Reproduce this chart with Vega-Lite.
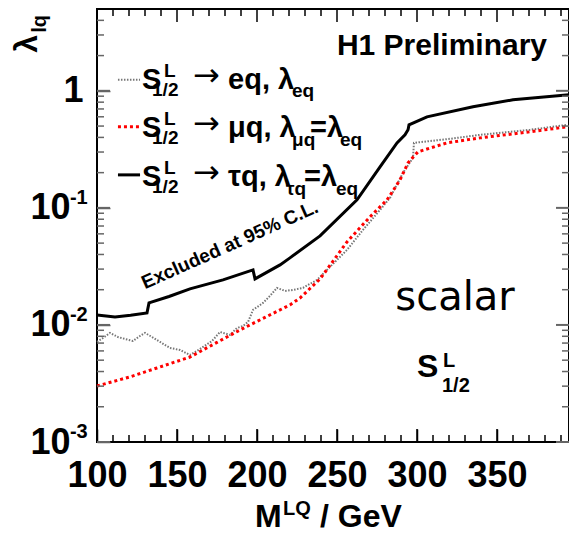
{
  "$schema": "https://vega.github.io/schema/vega-lite/v6.json",
  "width": 472,
  "height": 433,
  "autosize": "none",
  "padding": {"left": 97, "top": 9, "right": 0, "bottom": 91},
  "background": "white",
  "config": {"view": {"stroke": "#000", "strokeWidth": 2}, "font": "Liberation Sans"},
  "datasets": {
    "curves": [
      {"M": 100, "lam": 0.00716, "s": "eq"}, {"M": 103.75, "lam": 0.00774, "s": "eq"}, {"M": 108.1, "lam": 0.00855, "s": "eq"},
      {"M": 113.1, "lam": 0.00789, "s": "eq"}, {"M": 117.5, "lam": 0.00759, "s": "eq"}, {"M": 122.5, "lam": 0.00729, "s": "eq"},
      {"M": 126.9, "lam": 0.00805, "s": "eq"}, {"M": 130, "lam": 0.00855, "s": "eq"}, {"M": 134.4, "lam": 0.00789, "s": "eq"},
      {"M": 139.4, "lam": 0.00716, "s": "eq"}, {"M": 145.6, "lam": 0.00636, "s": "eq"}, {"M": 151.9, "lam": 0.00611, "s": "eq"},
      {"M": 158.1, "lam": 0.00554, "s": "eq"}, {"M": 162.5, "lam": 0.006, "s": "eq"}, {"M": 166.25, "lam": 0.00649, "s": "eq"},
      {"M": 171.9, "lam": 0.00729, "s": "eq"}, {"M": 176.9, "lam": 0.00871, "s": "eq"}, {"M": 183.1, "lam": 0.00822, "s": "eq"},
      {"M": 187.5, "lam": 0.00942, "s": "eq"}, {"M": 191.25, "lam": 0.0098, "s": "eq"}, {"M": 194.4, "lam": 0.01061, "s": "eq"},
      {"M": 197.5, "lam": 0.01343, "s": "eq"}, {"M": 203.75, "lam": 0.01542, "s": "eq"}, {"M": 208.1, "lam": 0.0177, "s": "eq"},
      {"M": 212.5, "lam": 0.02072, "s": "eq"}, {"M": 217.5, "lam": 0.01953, "s": "eq"}, {"M": 222.5, "lam": 0.01991, "s": "eq"},
      {"M": 228.75, "lam": 0.02072, "s": "eq"}, {"M": 237.5, "lam": 0.02425, "s": "eq"}, {"M": 245.6, "lam": 0.03132, "s": "eq"},
      {"M": 256.25, "lam": 0.04375, "s": "eq"}, {"M": 266.25, "lam": 0.06486, "s": "eq"}, {"M": 276.9, "lam": 0.0961, "s": "eq"},
      {"M": 283.1, "lam": 0.1217, "s": "eq"}, {"M": 291.25, "lam": 0.1991, "s": "eq"}, {"M": 297.5, "lam": 0.2675, "s": "eq"},
      {"M": 298.1, "lam": 0.3594, "s": "eq"}, {"M": 320.6, "lam": 0.389, "s": "eq"}, {"M": 339.4, "lam": 0.4207, "s": "eq"},
      {"M": 370.6, "lam": 0.4645, "s": "eq"}, {"M": 393.75, "lam": 0.512, "s": "eq"},
      {"M": 100, "lam": 0.00301, "s": "mu"}, {"M": 120.6, "lam": 0.0036, "s": "mu"}, {"M": 137.5, "lam": 0.00429, "s": "mu"},
      {"M": 158.1, "lam": 0.00532, "s": "mu"}, {"M": 175, "lam": 0.0071, "s": "mu"}, {"M": 189.4, "lam": 0.00906, "s": "mu"},
      {"M": 205, "lam": 0.0116, "s": "mu"}, {"M": 220.6, "lam": 0.01483, "s": "mu"}, {"M": 226.9, "lam": 0.017, "s": "mu"},
      {"M": 239.4, "lam": 0.0247, "s": "mu"}, {"M": 256.25, "lam": 0.0512, "s": "mu"}, {"M": 270.6, "lam": 0.0838, "s": "mu"},
      {"M": 281.25, "lam": 0.117, "s": "mu"}, {"M": 289.4, "lam": 0.1734, "s": "mu"}, {"M": 294.4, "lam": 0.2425, "s": "mu"},
      {"M": 300.6, "lam": 0.301, "s": "mu"}, {"M": 318.75, "lam": 0.3594, "s": "mu"}, {"M": 339.4, "lam": 0.3964, "s": "mu"},
      {"M": 370.6, "lam": 0.4464, "s": "mu"}, {"M": 393.75, "lam": 0.4924, "s": "mu"},
      {"M": 100, "lam": 0.01217, "s": "tau"}, {"M": 111.25, "lam": 0.0117, "s": "tau"}, {"M": 121, "lam": 0.0121, "s": "tau"},
      {"M": 131.25, "lam": 0.01267, "s": "tau"}, {"M": 132.5, "lam": 0.01542, "s": "tau"}, {"M": 145, "lam": 0.0175, "s": "tau"},
      {"M": 158.1, "lam": 0.02032, "s": "tau"}, {"M": 178.75, "lam": 0.02425, "s": "tau"}, {"M": 197.5, "lam": 0.02951, "s": "tau"},
      {"M": 198.75, "lam": 0.02472, "s": "tau"}, {"M": 214.4, "lam": 0.03258, "s": "tau"}, {"M": 220.6, "lam": 0.03741, "s": "tau"},
      {"M": 239.4, "lam": 0.05765, "s": "tau"}, {"M": 262.5, "lam": 0.117, "s": "tau"}, {"M": 276.9, "lam": 0.2241, "s": "tau"},
      {"M": 287.5, "lam": 0.3594, "s": "tau"}, {"M": 292.5, "lam": 0.4207, "s": "tau"}, {"M": 294.4, "lam": 0.4645, "s": "tau"},
      {"M": 295, "lam": 0.512, "s": "tau"}, {"M": 306.25, "lam": 0.5997, "s": "tau"}, {"M": 335, "lam": 0.7299, "s": "tau"},
      {"M": 360, "lam": 0.8377, "s": "tau"}, {"M": 395, "lam": 0.9244, "s": "tau"}
    ],
    "xmajor": [{"v": 100}, {"v": 150}, {"v": 200}, {"v": 250}, {"v": 300}, {"v": 350}],
    "xminor": [{"v": 110}, {"v": 120}, {"v": 130}, {"v": 140}, {"v": 160}, {"v": 170}, {"v": 180}, {"v": 190}, {"v": 210}, {"v": 220}, {"v": 230}, {"v": 240}, {"v": 260}, {"v": 270}, {"v": 280}, {"v": 290}, {"v": 310}, {"v": 320}, {"v": 330}, {"v": 340}, {"v": 360}, {"v": 370}, {"v": 380}, {"v": 390}],
    "ymajor": [{"v": 0.001}, {"v": 0.01}, {"v": 0.1}, {"v": 1}],
    "yminor": [{"v": 0.002}, {"v": 0.003}, {"v": 0.004}, {"v": 0.005}, {"v": 0.006}, {"v": 0.007}, {"v": 0.008}, {"v": 0.009}, {"v": 0.02}, {"v": 0.03}, {"v": 0.04}, {"v": 0.05}, {"v": 0.06}, {"v": 0.07}, {"v": 0.08}, {"v": 0.09}, {"v": 0.2}, {"v": 0.3}, {"v": 0.4}, {"v": 0.5}, {"v": 0.6}, {"v": 0.7}, {"v": 0.8}, {"v": 0.9}, {"v": 2}, {"v": 3}, {"v": 4}]
  },
  "layer": [
    {
      "data": {"name": "curves"},
      "transform": [{"filter": "datum.s === 'eq'"}],
      "mark": {"type": "line", "color": "#777", "strokeWidth": 2, "strokeDash": [1.5, 1.5]},
      "encoding": {
        "x": {"field": "M", "type": "quantitative",
          "scale": {"domain": [100, 395], "nice": false, "zero": false},
          "axis": {"orient": "bottom", "offset": -13, "title": null, "grid": false, "domain": false,
            "values": [100, 150, 200, 250, 300, 350],
            "labelFont": "Liberation Sans", "labelFontWeight": "bold", "labelFontSize": 36, "labelColor": "#000",
            "labelBaseline": "top", "labelPadding": 16, "labelOverlap": false, "labelFlush": false,
            "tickSize": 13, "tickColor": "#000", "tickWidth": 1.5}},
        "y": {"field": "lam", "type": "quantitative",
          "scale": {"type": "log", "domain": [0.001, 5], "nice": false},
          "axis": {"orient": "left", "offset": -13, "title": null, "grid": false, "domain": false,
            "values": [0.001, 0.01, 0.1, 1],
            "labelExpr": "datum.value == 1 ? '1' : '10'",
            "labelFont": "Liberation Sans", "labelFontWeight": "bold", "labelFontSize": 36, "labelColor": "#000",
            "labelBaseline": "middle", "labelOverlap": false, "labelFlush": false,
            "labelPadding": {"condition": {"test": "datum.value == 1", "value": 14}, "value": 27},
            "tickSize": 13, "tickColor": "#666", "tickWidth": 1.5}}
      }
    },
    {
      "data": {"name": "curves"},
      "transform": [{"filter": "datum.s === 'mu'"}],
      "mark": {"type": "line", "color": "#ff0000", "strokeWidth": 3, "strokeDash": [3, 3]},
      "encoding": {"x": {"field": "M", "type": "quantitative", "axis": {"title": null}}, "y": {"field": "lam", "type": "quantitative", "axis": {"title": null}}}
    },
    {
      "data": {"name": "curves"},
      "transform": [{"filter": "datum.s === 'tau'"}],
      "mark": {"type": "line", "color": "#000", "strokeWidth": 3},
      "encoding": {"x": {"field": "M", "type": "quantitative", "axis": {"title": null}}, "y": {"field": "lam", "type": "quantitative", "axis": {"title": null}}}
    },
    {
      "data": {"name": "xmajor"},
      "mark": {"type": "rule", "color": "#000", "strokeWidth": 1.5},
      "encoding": {"x": {"field": "v", "type": "quantitative", "axis": {"title": null}}, "y": {"datum": 0.001, "type": "quantitative", "axis": {"title": null}}, "y2": {"datum": 0.001292}}
    },
    {
      "data": {"name": "xmajor"},
      "mark": {"type": "rule", "color": "#000", "strokeWidth": 1.5},
      "encoding": {"x": {"field": "v", "type": "quantitative", "axis": {"title": null}}, "y": {"datum": 5, "type": "quantitative", "axis": {"title": null}}, "y2": {"datum": 3.87}}
    },
    {
      "data": {"name": "xminor"},
      "mark": {"type": "rule", "color": "#000", "strokeWidth": 1.5},
      "encoding": {"x": {"field": "v", "type": "quantitative", "axis": {"title": null}}, "y": {"datum": 0.001, "type": "quantitative", "axis": {"title": null}}, "y2": {"datum": 0.001148}}
    },
    {
      "data": {"name": "xminor"},
      "mark": {"type": "rule", "color": "#000", "strokeWidth": 1.5},
      "encoding": {"x": {"field": "v", "type": "quantitative", "axis": {"title": null}}, "y": {"datum": 5, "type": "quantitative", "axis": {"title": null}}, "y2": {"datum": 4.355}}
    },
    {
      "data": {"name": "ymajor"},
      "mark": {"type": "rule", "color": "#666", "strokeWidth": 2},
      "encoding": {"y": {"field": "v", "type": "quantitative", "axis": {"title": null}}, "x": {"datum": 100, "type": "quantitative", "axis": {"title": null}}, "x2": {"datum": 108.125}}
    },
    {
      "data": {"name": "ymajor"},
      "mark": {"type": "rule", "color": "#666", "strokeWidth": 2},
      "encoding": {"y": {"field": "v", "type": "quantitative", "axis": {"title": null}}, "x": {"datum": 395, "type": "quantitative", "axis": {"title": null}}, "x2": {"datum": 386.875}}
    },
    {
      "data": {"name": "yminor"},
      "mark": {"type": "rule", "color": "#666", "strokeWidth": 1.5},
      "encoding": {"y": {"field": "v", "type": "quantitative", "axis": {"title": null}}, "x": {"datum": 100, "type": "quantitative", "axis": {"title": null}}, "x2": {"datum": 104.375}}
    },
    {
      "data": {"name": "yminor"},
      "mark": {"type": "rule", "color": "#666", "strokeWidth": 1.5},
      "encoding": {"y": {"field": "v", "type": "quantitative", "axis": {"title": null}}, "x": {"datum": 395, "type": "quantitative", "axis": {"title": null}}, "x2": {"datum": 390.625}}
    },
    {
      "data": {"values": [{"x": 113.1, "x2": 126.9, "y": 1.242}]},
      "mark": {"type": "rule", "color": "#777", "strokeWidth": 2, "strokeDash": [1.5, 1.5]},
      "encoding": {"x": {"field": "x", "type": "quantitative", "axis": {"title": null}}, "x2": {"field": "x2"}, "y": {"field": "y", "type": "quantitative", "axis": {"title": null}}}
    },
    {
      "data": {"values": [{"x": 113.1, "x2": 126.9, "y": 0.4923}]},
      "mark": {"type": "rule", "color": "#ff0000", "strokeWidth": 3, "strokeDash": [3, 3]},
      "encoding": {"x": {"field": "x", "type": "quantitative", "axis": {"title": null}}, "x2": {"field": "x2"}, "y": {"field": "y", "type": "quantitative", "axis": {"title": null}}}
    },
    {
      "data": {"values": [{"x": 113.1, "x2": 126.9, "y": 0.1914}]},
      "mark": {"type": "rule", "color": "#000", "strokeWidth": 3},
      "encoding": {"x": {"field": "x", "type": "quantitative", "axis": {"title": null}}, "x2": {"field": "x2"}, "y": {"field": "y", "type": "quantitative", "axis": {"title": null}}}
    },
    {
      "data": {"values": [
        {"x": 128.1, "y": 1.04, "t": "S"}, {"x": 181.9, "y": 1.04, "t": "eq, λ"},
        {"x": 128.1, "y": 0.4045, "t": "S"}, {"x": 181.9, "y": 0.4045, "t": "μq, λ"}, {"x": 233.1, "y": 0.4045, "t": "=λ"},
        {"x": 128.1, "y": 0.1542, "t": "S"}, {"x": 181.9, "y": 0.1542, "t": "τq, λ"}, {"x": 229.4, "y": 0.1542, "t": "=λ"}
      ]},
      "mark": {"type": "text", "align": "left", "baseline": "alphabetic", "font": "Liberation Sans", "fontSize": 29, "fontWeight": "bold", "color": "#000"},
      "encoding": {"x": {"field": "x", "type": "quantitative", "axis": {"title": null}}, "y": {"field": "y", "type": "quantitative", "axis": {"title": null}}, "text": {"field": "t"}}
    },
    {
      "data": {"values": [
        {"x": 160, "y": 1.1, "t": "→"}, {"x": 160, "y": 0.4279, "t": "→"}, {"x": 160, "y": 0.1631, "t": "→"}
      ]},
      "mark": {"type": "text", "align": "left", "baseline": "alphabetic", "font": "DejaVu Sans", "fontSize": 32, "color": "#000"},
      "encoding": {"x": {"field": "x", "type": "quantitative", "axis": {"title": null}}, "y": {"field": "y", "type": "quantitative", "axis": {"title": null}}, "text": {"field": "t"}}
    },
    {
      "data": {"values": [
        {"x": 141.9, "y": 1.317, "t": "L"}, {"x": 134.4, "y": 0.906, "t": "1/2"}, {"x": 221.9, "y": 0.888, "t": "eq"},
        {"x": 141.9, "y": 0.512, "t": "L"}, {"x": 134.4, "y": 0.3524, "t": "1/2"}, {"x": 221.9, "y": 0.3388, "t": "μq"}, {"x": 251.9, "y": 0.3388, "t": "eq"},
        {"x": 141.9, "y": 0.1953, "t": "L"}, {"x": 134.4, "y": 0.1343, "t": "1/2"}, {"x": 218.1, "y": 0.1292, "t": "τq"}, {"x": 249.4, "y": 0.1292, "t": "eq"}
      ]},
      "mark": {"type": "text", "align": "left", "baseline": "alphabetic", "font": "Liberation Sans", "fontSize": 19, "fontWeight": "bold", "color": "#000"},
      "encoding": {"x": {"field": "x", "type": "quantitative", "axis": {"title": null}}, "y": {"field": "y", "type": "quantitative", "axis": {"title": null}}, "text": {"field": "t"}}
    },
    {
      "data": {"values": [{"x": 83.1, "y": 0.1081, "t": "-1"}, {"x": 83.1, "y": 0.01081, "t": "-2"}, {"x": 83.1, "y": 0.001081, "t": "-3"}]},
      "mark": {"type": "text", "align": "left", "baseline": "alphabetic", "font": "Liberation Sans", "fontSize": 20, "fontWeight": "bold", "color": "#000"},
      "encoding": {"x": {"field": "x", "type": "quantitative", "axis": {"title": null}}, "y": {"field": "y", "type": "quantitative", "axis": {"title": null}}, "text": {"field": "t"}}
    },
    {
      "data": {"values": [{"x": 315.6, "y": 2.03, "t": "H1 Preliminary"}]},
      "mark": {"type": "text", "align": "center", "baseline": "alphabetic", "font": "Liberation Sans", "fontSize": 30, "fontWeight": "bold", "color": "#000"},
      "encoding": {"x": {"field": "x", "type": "quantitative", "axis": {"title": null}}, "y": {"field": "y", "type": "quantitative", "axis": {"title": null}}, "text": {"field": "t"}}
    },
    {
      "data": {"values": [{"x": 183.1, "y": 0.0483, "t": "Excluded at 95% C.L."}]},
      "mark": {"type": "text", "align": "center", "baseline": "middle", "angle": -24, "font": "Liberation Sans", "fontSize": 19, "fontWeight": "bold", "color": "#000"},
      "encoding": {"x": {"field": "x", "type": "quantitative", "axis": {"title": null}}, "y": {"field": "y", "type": "quantitative", "axis": {"title": null}}, "text": {"field": "t"}}
    },
    {
      "data": {"values": [{"x": 323.75, "y": 0.01343, "t": "scalar"}]},
      "mark": {"type": "text", "align": "center", "baseline": "alphabetic", "font": "DejaVu Sans", "fontSize": 40, "color": "#000"},
      "encoding": {"x": {"field": "x", "type": "quantitative", "axis": {"title": null}}, "y": {"field": "y", "type": "quantitative", "axis": {"title": null}}, "text": {"field": "t"}}
    },
    {
      "data": {"values": [{"x": 300, "y": 0.003594, "t": "S"}, {"x": 198.75, "y": 0.0001878, "t": "M"}, {"x": 239.4, "y": 0.0001878, "t": "/  GeV"}]},
      "mark": {"type": "text", "align": "left", "baseline": "alphabetic", "font": "Liberation Sans", "fontSize": 32, "fontWeight": "bold", "color": "#000"},
      "encoding": {"x": {"field": "x", "type": "quantitative", "axis": {"title": null}}, "y": {"field": "y", "type": "quantitative", "axis": {"title": null}}, "text": {"field": "t"}}
    },
    {
      "data": {"values": [{"x": 316.25, "y": 0.004375, "t": "L"}, {"x": 315.6, "y": 0.002675, "t": "1/2"}, {"x": 216.25, "y": 0.0002377, "t": "LQ"}]},
      "mark": {"type": "text", "align": "left", "baseline": "alphabetic", "font": "Liberation Sans", "fontSize": 20, "fontWeight": "bold", "color": "#000"},
      "encoding": {"x": {"field": "x", "type": "quantitative", "axis": {"title": null}}, "y": {"field": "y", "type": "quantitative", "axis": {"title": null}}, "text": {"field": "t"}}
    },
    {
      "data": {"values": [{"x": 62.5, "y": 2.11, "t": "λ"}]},
      "mark": {"type": "text", "align": "left", "baseline": "alphabetic", "angle": 270, "font": "Liberation Sans", "fontSize": 32, "fontWeight": "bold", "color": "#000"},
      "encoding": {"x": {"field": "x", "type": "quantitative", "axis": {"title": null}}, "y": {"field": "y", "type": "quantitative", "axis": {"title": null}}, "text": {"field": "t"}}
    },
    {
      "data": {"values": [{"x": 68.1, "y": 3.13, "t": "lq"}]},
      "mark": {"type": "text", "align": "left", "baseline": "alphabetic", "angle": 270, "font": "Liberation Sans", "fontSize": 20, "fontWeight": "bold", "color": "#000"},
      "encoding": {"x": {"field": "x", "type": "quantitative", "axis": {"title": null}}, "y": {"field": "y", "type": "quantitative", "axis": {"title": null}}, "text": {"field": "t"}}
    }
  ]
}
